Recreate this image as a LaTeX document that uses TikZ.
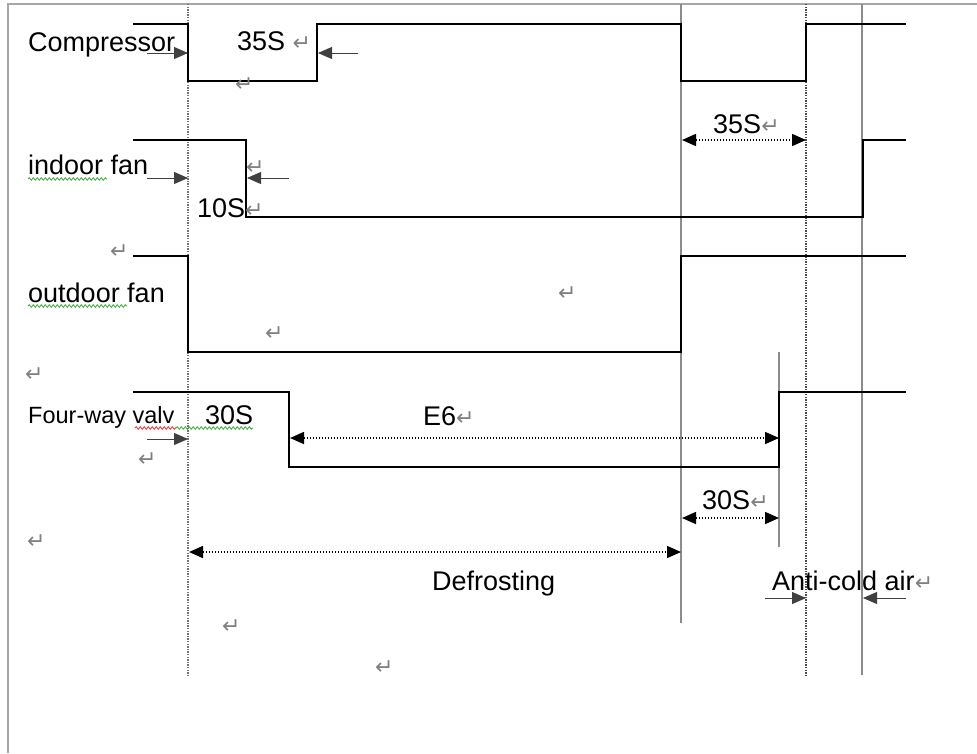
\documentclass[tikz,border=0pt]{standalone}
\usepackage{fontspec}
\setmainfont{Liberation Sans}
\newfontfamily\pmfont{DejaVu Sans}
\usetikzlibrary{arrows.meta,decorations.pathmorphing}
\definecolor{spellgreen}{RGB}{60,170,60}
\definecolor{spellred}{RGB}{235,50,50}
\newcommand{\pmk}{{\pmfont\fontsize{22}{24}\selectfont\textcolor{black!50}{↵}}}
\begin{document}
\begin{tikzpicture}[x=1pt,y=-1pt,
  sig/.style={line width=2pt,black},
  guide/.style={line width=1.5pt,black!45},
  guidedot/.style={line width=1.5pt,black!55,dash pattern=on 1.3pt off 1.3pt},
  tickarrow/.style={line width=1pt,black!75,-{Triangle[length=14pt,width=12pt]}},
  dimarrow/.style={line width=1.6pt,black,dash pattern=on 1.5pt off 1.5pt,{Triangle[length=14pt,width=12pt]}-{Triangle[length=14pt,width=12pt]}},
  lbl/.style={inner sep=0pt,anchor=base west,font=\fontsize{27}{30}\selectfont},
  smlbl/.style={inner sep=0pt,anchor=base west,font=\fontsize{23.5}{28}\selectfont},
  pm/.style={inner sep=0pt,anchor=base west,font=\pmfont\fontsize{22}{24}\selectfont,text=black!50},
  wavy/.style={line width=0.8pt,decorate,decoration={snake,amplitude=1.3pt,segment length=4pt}}
]
\useasboundingbox (0,0) rectangle (977,753);

% frame (page edges)
\draw[line width=2pt,black!35] (8,753) -- (8,4) -- (977,4);

% guide lines
\draw[guidedot] (188,4) -- (188,677);
\draw[guide] (681,4) -- (681,623);
\draw[guidedot,black!70] (806,4) -- (806,675);
\draw[guide] (862,4) -- (862,675);
\draw[guide] (779,352) -- (779,547);

% signals
\draw[sig] (133,24) -- (188,24) -- (188,81) -- (317,81) -- (317,24) -- (681,24) -- (681,81) -- (806,81) -- (806,24) -- (906,24);
\draw[sig] (133,140) -- (246,140) -- (246,217) -- (863,217) -- (863,140) -- (906,140);
\draw[sig] (133,256) -- (188,256) -- (188,352) -- (681,352) -- (681,256) -- (906,256);
\draw[sig] (133,392) -- (289,392) -- (289,467) -- (779,467) -- (779,392) -- (906,392);

% labels
\node[lbl] (comp) at (28,51) {Compressor};
\node[lbl] (t35a) at (237,50) {35S \pmk};
\node[pm] (pm1) at (235,91) {↵};
\node[lbl] (indoor) at (28,174) {indoor fan};
\node[pm] (pm2) at (246,174) {↵};
\node[lbl] (t10) at (197,217) {10S\pmk};
\node[pm] (pm3) at (110,258) {↵};
\node[lbl] (outdoor) at (28,302) {outdoor fan};
\node[pm] (pm4) at (558,300) {↵};
\node[pm] (pm5) at (265,340) {↵};
\node[pm] (pm6) at (25,381) {↵};
\node[smlbl] (valve) at (28,423) {Four-way valv};
\node[lbl] (t30a) at (205,424) {30S};
\node[pm] (pm7) at (138,466) {↵};
\node[lbl] (e6) at (423,425) {E6\pmk};
\node[lbl] (t35b) at (713,133) {35S\pmk};
\node[lbl] (t30b) at (702,509) {30S\pmk};
\node[pm] (pm8) at (27,548) {↵};
\node[lbl] (defrost) at (432,590) {Defrosting};
\node[lbl] (anti) at (772,590) {Anti-cold air\pmk};
\node[pm] (pm9) at (222,633) {↵};
\node[pm] (pm10) at (375,674) {↵};

% spell-check underlines
\draw[wavy,spellgreen] (28,179) -- (107,179);
\draw[wavy,spellgreen] (28,306) -- (127,306);
\draw[wavy,spellred] (135,428) -- (176,428);
\draw[wavy,spellgreen] (176,428) -- (253,428);

% arrow end points
\coordinate (ca1) at (147,53);  \coordinate (ca2) at (188,53);
\coordinate (cb1) at (358,53);  \coordinate (cb2) at (318,53);
\coordinate (ia1) at (147,178); \coordinate (ia2) at (188,178);
\coordinate (ib1) at (289,178); \coordinate (ib2) at (247,178);
\coordinate (va1) at (147,439); \coordinate (va2) at (188,439);
\coordinate (aa1) at (765,598); \coordinate (aa2) at (806,598);
\coordinate (ab1) at (906,598); \coordinate (ab2) at (863,598);
\coordinate (d35a) at (682,140); \coordinate (d35b) at (806,140);
\coordinate (de6a) at (290,438); \coordinate (de6b) at (779,438);
\coordinate (d30a) at (682,518); \coordinate (d30b) at (779,518);
\coordinate (ddfa) at (189,552); \coordinate (ddfb) at (681,552);

\draw[tickarrow] (ca1) -- (ca2);
\draw[tickarrow] (cb1) -- (cb2);
\draw[tickarrow] (ia1) -- (ia2);
\draw[tickarrow] (ib1) -- (ib2);
\draw[tickarrow] (va1) -- (va2);
\draw[tickarrow] (aa1) -- (aa2);
\draw[tickarrow] (ab1) -- (ab2);
\draw[dimarrow] (d35a) -- (d35b);
\draw[dimarrow] (de6a) -- (de6b);
\draw[dimarrow] (d30a) -- (d30b);
\draw[dimarrow] (ddfa) -- (ddfb);
\end{tikzpicture}
\end{document}
